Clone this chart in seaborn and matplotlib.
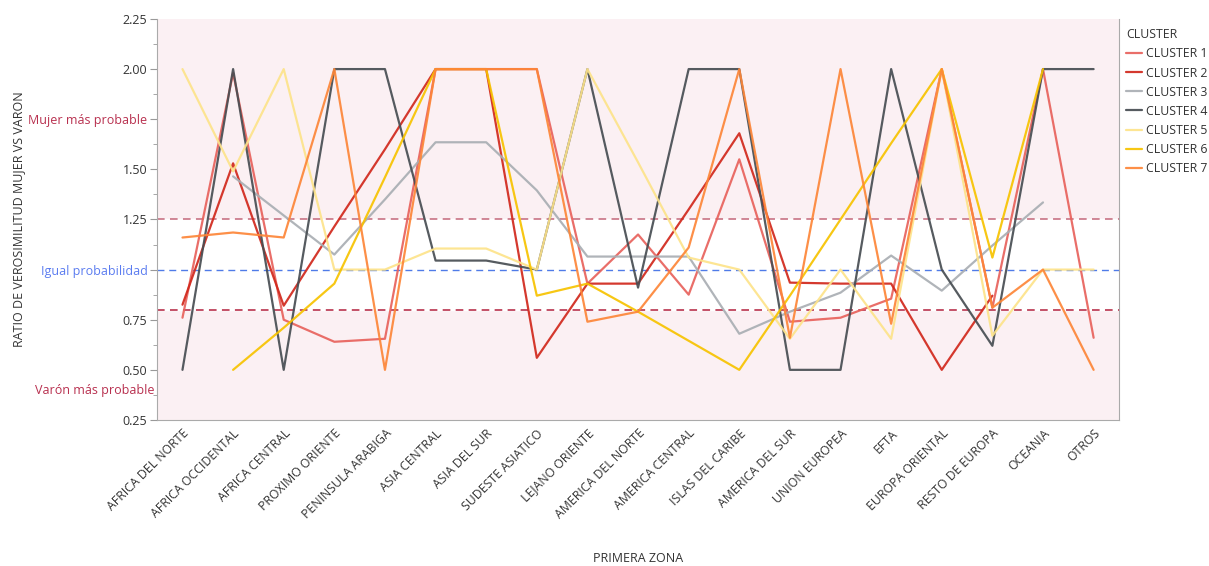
import numpy as np
import pandas as pd
import matplotlib
matplotlib.use("Agg")
import matplotlib.pyplot as plt
import seaborn as sns

# datos
zonas = ["AFRICA DEL NORTE", "AFRICA OCCIDENTAL", "AFRICA CENTRAL", "PROXIMO ORIENTE",
         "PENINSULA ARABIGA", "ASIA CENTRAL", "ASIA DEL SUR", "SUDESTE ASIATICO",
         "LEJANO ORIENTE", "AMERICA DEL NORTE", "AMERICA CENTRAL", "ISLAS DEL CARIBE",
         "AMERICA DEL SUR", "UNION EUROPEA", "EFTA", "EUROPA ORIENTAL",
         "RESTO DE EUROPA", "OCEANIA", "OTROS"]
nan = np.nan
cluster_1 = [0.76, 1.98, 0.75, 0.64, 0.655, 2.0, 2.0, 2.0, 0.93, 1.175, 0.875, 1.55,
             0.74, 0.76, 0.855, 2.0, 0.81, 2.0, 0.66]
cluster_2 = [0.825, 1.53, 0.82, 1.215, 1.60, 2.0, 2.0, 0.56, 0.93, 0.93, 1.30, 1.68,
             0.935, 0.93, 0.93, 0.5, 0.87, nan, nan]
cluster_3 = [nan, 1.465, 1.27, 1.075, 1.35, 1.635, 1.635, 1.395, 1.065, 1.065, 1.065, 0.68,
             0.79, 0.885, 1.07, 0.895, 1.12, 1.335, nan]
cluster_4 = [0.5, 2.0, 0.5, 2.0, 2.0, 1.045, 1.045, 1.0, 2.0, 0.91, 2.0, 2.0,
             0.5, 0.5, 2.0, 1.0, 0.62, 2.0, 2.0]
cluster_5 = [2.0, 1.49, 2.0, 1.0, 1.0, 1.105, 1.105, 1.0, 2.0, 1.535, 1.06, 1.0,
             0.655, 1.0, 0.655, 2.0, 0.67, 1.0, 1.0]
cluster_6 = [nan, 0.5, 0.71, 0.93, 1.46, 2.0, 2.0, 0.87, 0.93, 0.79, 0.645, 0.5,
             0.87, 1.25, 1.63, 2.0, 1.06, 2.0, nan]
cluster_7 = [1.16, 1.185, 1.16, 2.0, 0.5, 2.0, 2.0, 2.0, 0.74, 0.79, 1.11, 2.0,
             0.66, 2.0, 0.73, 2.0, 0.81, 1.0, 0.5]

series = {"CLUSTER 1": cluster_1, "CLUSTER 2": cluster_2, "CLUSTER 3": cluster_3,
          "CLUSTER 4": cluster_4, "CLUSTER 5": cluster_5, "CLUSTER 6": cluster_6,
          "CLUSTER 7": cluster_7}
colores = ["#e8625c", "#d1281c", "#a9aeb3", "#474d52", "#fde38a", "#f7c300", "#fd8638"]

filas = []
for nombre, vals in series.items():
    for i, v in enumerate(vals):
        filas.append({"pos": i, "cluster": nombre, "ratio": v})
df = pd.DataFrame(filas).dropna()

sns.set_style("white")
plt.rcParams["font.family"] = ["Open Sans", "DejaVu Sans"]

fig = plt.figure(figsize=(12.09, 5.66), dpi=100)
ax = fig.add_axes([0.13, 0.258, 0.7955, 0.7085])
ax.set_facecolor("#fbf0f3")
ax.axhspan(0.8, 1.25, color="white", zorder=0)

sns.lineplot(data=df, x="pos", y="ratio", hue="cluster", palette=colores,
             linewidth=1.6, alpha=0.92, ax=ax, estimator=None, sort=False)

# lineas de referencia
ax.axhline(1.25, color="#c4677a", linestyle=(0, (5, 3.5)), linewidth=1.1, zorder=1)
ax.axhline(1.0, color="#4f7be8", linestyle=(0, (5, 3.5)), linewidth=1.0, zorder=1)
ax.axhline(0.8, color="#b3203d", linestyle=(0, (5, 3.5)), linewidth=1.1, zorder=1)

ax.set_xlim(-0.5, len(zonas) - 0.5)
ax.set_ylim(0.25, 2.25)
ax.set_xticks(range(len(zonas)))
ax.set_xticklabels(zonas, rotation=45, ha="right", rotation_mode="anchor",
                   fontsize=8.8, color="#333333")
ax.tick_params(axis="x", length=0, pad=5)

yt = [0.25, 0.5, 0.75, 1.0, 1.25, 1.5, 1.75, 2.0, 2.25]
ylab = ["0.25", "0.50", "0.75", "Igual probabilidad", "1.25", "1.50",
        "Mujer más probable", "2.00", "2.25"]
ax.set_yticks(yt)
ax.set_yticklabels(ylab, fontsize=9, color="#333333")
ax.set_yticks(np.arange(0.375, 2.25, 0.25), minor=True)
ax.tick_params(axis="y", which="major", length=5, color="#999999", left=True, pad=2)
ax.tick_params(axis="y", which="minor", length=3, color="#999999", left=True)
for lbl in ax.get_yticklabels():
    if lbl.get_text() == "Igual probabilidad":
        lbl.set_color("#5b7cf0")
    elif lbl.get_text() == "Mujer más probable":
        lbl.set_color("#b8304f")
ax.text(-0.003, 0.395, "Varón más probable", transform=ax.get_yaxis_transform(),
        ha="right", va="center", fontsize=9, color="#b8304f")

for s in ["left", "bottom", "right"]:
    ax.spines[s].set_visible(True)
    ax.spines[s].set_color("#aaaaaa")
ax.spines["top"].set_visible(False)

ax.set_xlabel("PRIMERA ZONA", fontsize=9, color="#333333")
ax.xaxis.set_label_coords(0.5, -0.33)
ax.set_ylabel("RATIO DE VEROSIMILITUD MUJER VS VARON", fontsize=9, color="#333333")
ax.yaxis.set_label_coords(-0.137, 0.5)

leg = ax.legend(title="CLUSTER", loc="upper left", bbox_to_anchor=(1.0, 0.995),
                frameon=False, fontsize=8.8, title_fontsize=8.8, handlelength=1.3,
                handletextpad=0.35, labelspacing=0.5, borderaxespad=0.2)
leg._legend_box.align = "left"
for t in leg.get_texts():
    t.set_color("#333333")
leg.get_title().set_color("#333333")

fig.savefig("out.png", dpi=100)
